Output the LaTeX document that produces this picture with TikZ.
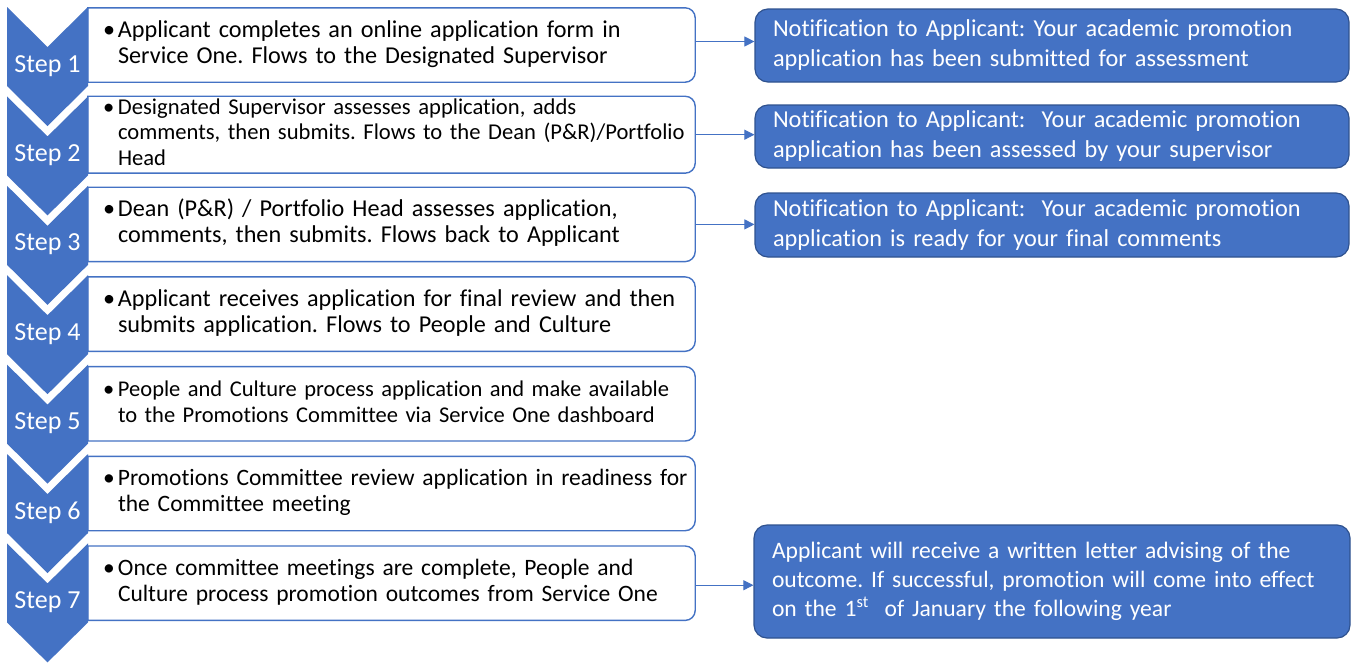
\documentclass[tikz,border=0pt]{standalone}
\usepackage{fontspec}
\setmainfont{Carlito}[Ligatures=NoCommon]
\usetikzlibrary{calc,arrows.meta}
\definecolor{stepblue}{HTML}{4472C4}
\definecolor{edgeblue}{HTML}{2F528F}
% bullet followed by a block of fixed lines
\newcommand\bulitem[1]{\makebox[15pt][l]{\textbullet}\begin{tabular}[t]{@{}l@{}}#1\end{tabular}}
\newcommand\fsz[2]{\fontsize{#1}{#2}\selectfont}
\frenchspacing
\begin{document}
\begin{tikzpicture}[x=1pt,y=-1pt,
  chev/.style={fill=stepblue},
  steplabel/.style={text=white,font=\fsz{26}{30},anchor=base,inner sep=0pt},
  taskbox/.style={minimum width=607pt,minimum height=74pt,inner xsep=15pt,inner ysep=0pt,
    text width=577pt,align=left,font=\fsz{24.2}{26}},
  boxline/.style={draw=stepblue,line width=1.4pt},
  note/.style={fill=stepblue,draw=edgeblue,line width=1.2pt,rounded corners=13pt,
    minimum width=594pt,inner xsep=18pt,inner ysep=0pt,text width=558pt,align=left,
    text=white,font=\fsz{24.3}{30}},
  arrowline/.style={draw=stepblue,line width=1pt,-{Triangle[length=10pt,width=10pt]}}]
\useasboundingbox (0,0) rectangle (1354,662);
\fill[white] (0,0) rectangle (1354,662);

% step chevrons
\foreach \k in {1,...,7}{
  \pgfmathsetmacro\t{7+89.4*(\k-1)}
  \fill[chev] (7,\t) -- (47.5,\t+40) -- (88,\t) -- (88,\t+79) -- (47.5,\t+119) -- (7,\t+79) -- cycle;
  \node[steplabel] (step\k) at (47.5,\t+65) {Step \k};
}

% task boxes
\node[taskbox] (box1) at (391.5,45) {\bulitem{Applicant completes an online application form in\\Service One. Flows to the Designated Supervisor}};
\node[taskbox,font=\fsz{22.6}{25.5}] (box2) at (391.5,134.7) {\bulitem{Designated Supervisor assesses application, adds\\comments, then submits. Flows to the Dean (P\&R)/Portfolio\\Head}};
\node[taskbox] (box3) at (391.5,224.4) {\bulitem{Dean (P\&R) / Portfolio Head assesses application,\\comments, then submits. Flows back to Applicant}};
\node[taskbox] (box4) at (391.5,314.1) {\bulitem{Applicant receives application for final review and then\\submits application. Flows to People and Culture}};
\node[taskbox,font=\fsz{22.5}{26}] (box5) at (391.5,403.8) {\bulitem{People and Culture process application and make available\\to the Promotions Committee via Service One dashboard}};
\node[taskbox,font=\fsz{23.5}{26}] (box6) at (391.5,493.5) {\bulitem{Promotions Committee review application in readiness for\\the Committee meeting}};
\node[taskbox,font=\fsz{23.5}{26}] (box7) at (391.5,583.2) {\bulitem{Once committee meetings are complete, People and\\Culture process promotion outcomes from Service One}};

% outlines: square on the chevron side, rounded on the right
\foreach \k in {1,...,7}{
  \draw[boxline] (box\k.north west) -- ($(box\k.north east)+(-10,0)$)
    arc[start angle=270,end angle=360,radius=10]
    -- ($(box\k.south east)+(0,-10)$)
    arc[start angle=0,end angle=90,radius=10]
    -- (box\k.south west) -- cycle;
}

% notifications
\node[note,minimum height=73pt] (note1) at (1052,45.5) {Notification to Applicant: Your academic promotion\\application has been submitted for assessment};
\node[note,minimum height=63pt] (note2) at (1052,136.5) {Notification to Applicant:\ \ Your academic promotion\\application has been assessed by your supervisor};
\node[note,minimum height=64pt] (note3) at (1052,225) {Notification to Applicant:\ \ Your academic promotion\\application is ready for your final comments};
\node[note,minimum height=113pt,minimum width=596pt,text width=560pt,font=\fsz{23.6}{29}] (note4) at (1052,581.5) {Applicant will receive a written letter advising of the\\outcome. If successful, promotion will come into effect\\on the 1\textsuperscript{st}\ \ of January the following year};

% connectors
\draw[arrowline] ($(box1.east)+(0,-3.5)$) coordinate (a1) -- (a1 -| note1.west);
\draw[arrowline] (box2.east) -- (box2.east -| note2.west);
\draw[arrowline] (box3.east) -- (box3.east -| note3.west);
\draw[arrowline] ($(box7.east)+(0,2)$) coordinate (a7) -- (a7 -| note4.west);
\end{tikzpicture}
\end{document}
